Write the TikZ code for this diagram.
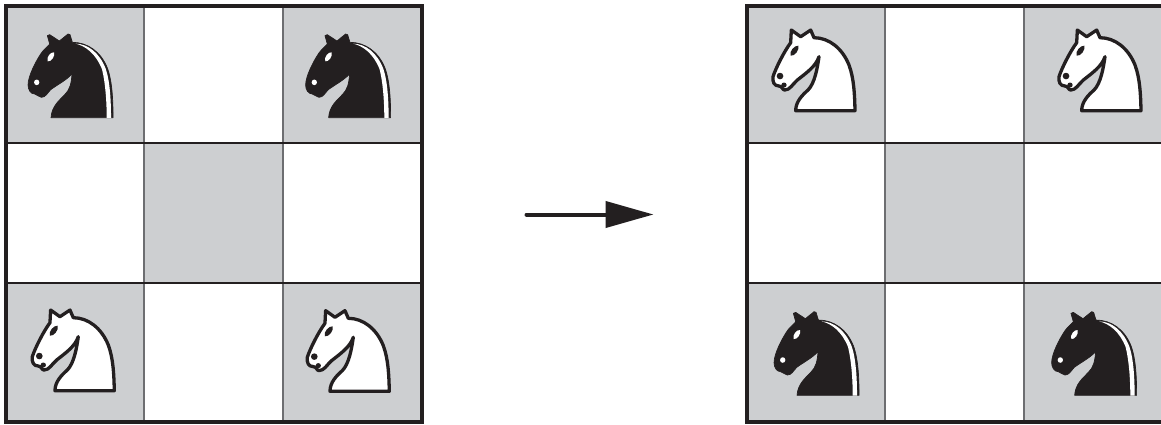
\documentclass[tikz,border=0pt]{standalone}
\usetikzlibrary{arrows.meta}
\definecolor{ink}{HTML}{231F20}
\definecolor{square}{HTML}{CDCFD1}
\definecolor{innerv}{HTML}{6D6E71}
\tikzset{
  cellfill/.style={fill=square},
  outerline/.style={draw=ink,line width=3.8pt},
  hline/.style={draw=ink,line width=2.1pt},
  vline/.style={draw=innerv,line width=2.4pt},
  blackknight/.pic={
    \filldraw[fill=ink,draw=ink,line width=0.7pt,line join=round] (1,-1) .. controls (3,-35) and (25,-52) .. (42,-70)
      .. controls (58,-85) and (62,-105) .. (64,-132)
      .. controls (45,-112) and (20,-100) .. (0,-85)
      .. controls (-10,-75) and (-15,-62) .. (-28,-62)
      .. controls (-38,-62) and (-40,-72) .. (-48,-72)
      .. controls (-60,-72) and (-68,-85) .. (-68,-99)
      .. controls (-68,-125) and (-45,-170) .. (-28,-195)
      .. controls (-20,-207) and (-8,-215) .. (-3,-222)
      -- (-10,-247) -- (-3,-250) -- (26,-231) -- (52,-252) -- (58,-250) -- (65,-227)
      .. controls (110,-227) and (150,-200) .. (170,-150)
      .. controls (185,-110) and (187,-50) .. (187,-1) -- cycle;
    \fill[white] (75,-223) .. controls (112,-222) and (146,-196) .. (165,-148)
      .. controls (178,-110) and (181,-50) .. (181,0)
      -- (168,0) .. controls (168,-50) and (164,-105) .. (154,-146)
      .. controls (136,-192) and (105,-216) .. (75,-223) -- cycle;
    \fill[white] (-9,-170) .. controls (-14,-182) and (0,-199) .. (10,-197)
      .. controls (14,-185) and (1,-168) .. (-9,-170) -- cycle;
    \fill[white] (-50,-107) .. controls (-50,-118) and (-34,-118) .. (-34,-107)
      .. controls (-34,-96) and (-50,-96) .. (-50,-107) -- cycle;
  },
  whiteknight/.pic={
    \filldraw[fill=white,draw=ink,line width=3.3pt,line join=round]
      (5,-3) .. controls (5,-30) and (25,-50) .. (42,-65)
      .. controls (62,-85) and (70,-130) .. (75,-165)
      .. controls (65,-135) and (35,-115) .. (10,-95)
      .. controls (-5,-82) and (-12,-65) .. (-28,-65)
      .. controls (-35,-65) and (-35,-77) .. (-45,-77)
      .. controls (-60,-77) and (-65,-90) .. (-63,-105)
      .. controls (-55,-130) and (-30,-180) .. (-10,-207)
      -- (-8,-245) -- (20,-225) -- (50,-245) -- (60,-222)
      .. controls (105,-222) and (145,-190) .. (165,-140)
      .. controls (180,-100) and (182,-50) .. (183,-3) -- cycle;
    \fill[ink] (-10,-168) .. controls (-16,-180) and (2,-200) .. (13,-198)
      .. controls (17,-185) and (2,-166) .. (-10,-168) -- cycle;
    \fill[ink] (-52,-107) .. controls (-52,-120) and (-32,-120) .. (-32,-107)
      .. controls (-32,-94) and (-52,-94) .. (-52,-107) -- cycle;
    \fill[ink] (-38,-80) .. controls (-38,-90) and (-22,-90) .. (-22,-80)
      .. controls (-22,-70) and (-38,-70) .. (-38,-80) -- cycle;
  }
}
\begin{document}
\begin{tikzpicture}[x=1pt,y=-1pt]
\useasboundingbox (0,0) rectangle (1161,425);
\fill[white] (0,0) rectangle (1161,425);
% left board squares
\foreach \a/\b in {5/5,283/5,144/143,5/283,283/283}
  \fill[cellfill] (\a,\b) rectangle ++(140,139);
% right board squares
\foreach \a/\b in {746/5,1024/5,885/143,746/283,1024/283}
  \fill[cellfill] (\a,\b) rectangle ++(140,139);
% left board grid
\draw[vline] (144,5) -- (144,422);
\draw[vline] (283,5) -- (283,422);
\draw[hline] (5,143) -- (423,143);
\draw[hline] (5,283) -- (423,283);
\draw[outerline,line cap=rect] (6,6) rectangle (422,422);
% right board grid
\draw[vline] (885,5) -- (885,422);
\draw[vline] (1024,5) -- (1024,422);
\draw[hline] (746,143) -- (1161,143);
\draw[hline] (746,283) -- (1161,283);
\draw[outerline] (1161,6) -- (747,6) -- (747,422) -- (1161,422);
% knights
\pic[scale=1/3] (ka) at (50.7,118) {blackknight};
\pic[scale=1/3] (kb) at (328.3,118) {blackknight};
\pic[scale=1/3] (kc) at (53.3,391.7) {whiteknight};
\pic[scale=1/3] (kd) at (328.3,392.3) {whiteknight};
\pic[scale=1/3] (ke) at (794,111.7) {whiteknight};
\pic[scale=1/3] (kf) at (1080,111.7) {whiteknight};
\pic[scale=1/3] (kg) at (796.7,395.7) {blackknight};
\pic[scale=1/3] (kh) at (1074.3,395.7) {blackknight};
% arrow
\coordinate (from) at (526.5,214.5);
\coordinate (to) at (653.5,214.5);
\draw[ink,line width=4pt,line cap=round,-{Triangle[length=48pt,width=26pt,fill=ink]}] (from) -- (to);
\end{tikzpicture}
\end{document}
